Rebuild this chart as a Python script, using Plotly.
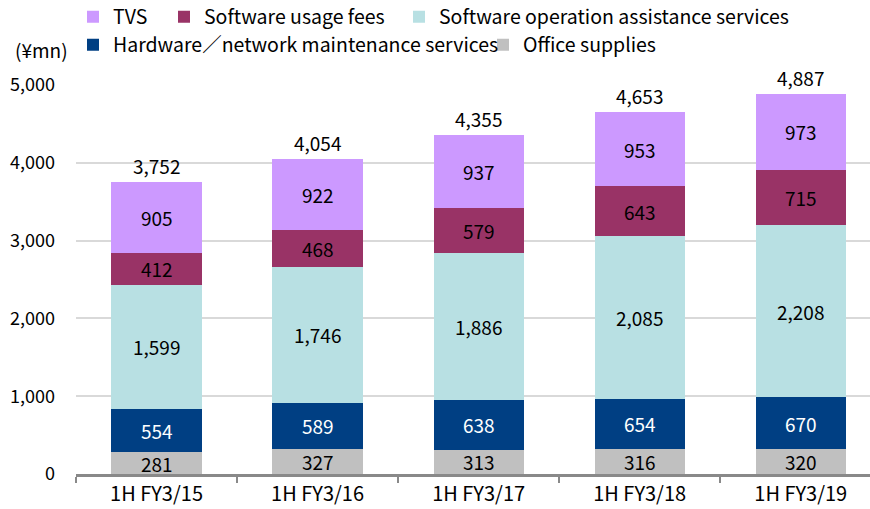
import plotly.graph_objects as go

categories = ["1H FY3/15", "1H FY3/16", "1H FY3/17", "1H FY3/18", "1H FY3/19"]
office_supplies = [281, 327, 313, 316, 320]
hardware = [554, 589, 638, 654, 670]
sw_operation = [1599, 1746, 1886, 2085, 2208]
sw_usage = [412, 468, 579, 643, 715]
tvs = [905, 922, 937, 953, 973]
totals = [3752, 4054, 4355, 4653, 4887]
y_ticks = [0, 1000, 2000, 3000, 4000, 5000]

FONT = "Noto Sans CJK JP"

series = [
    ("Office supplies", office_supplies, "#C0C0C0", "#000000", "legend5"),
    ("Hardware／network maintenance services", hardware, "#003F83", "#FFFFFF", "legend4"),
    ("Software operation assistance services", sw_operation, "#B8E0E3", "#000000", "legend3"),
    ("Software usage fees", sw_usage, "#993366", "#000000", "legend2"),
    ("TVS", tvs, "#CC99FF", "#000000", "legend"),
]

fig = go.Figure()
for name, vals, color, tcolor, leg in series:
    fig.add_trace(go.Bar(
        name=name, x=categories, y=vals, marker=dict(color=color, line=dict(width=0)),
        width=0.56, legend=leg, showlegend=True,
    ))

# segment labels at midpoints of stacked segments
cum = [0] * len(categories)
for name, vals, color, tcolor, leg in series:
    for i, c in enumerate(categories):
        fig.add_annotation(x=c, y=cum[i] + vals[i] / 2, text=f"{vals[i]:,}", showarrow=False,
                           font=dict(family=FONT, size=19, color=tcolor))
        cum[i] += vals[i]

for i, c in enumerate(categories):
    fig.add_annotation(x=c, y=totals[i], text=f"{totals[i]:,}", showarrow=False, yanchor="bottom",
                       yshift=1, font=dict(family=FONT, size=19, color="#000000"))

fig.add_annotation(xref="paper", yref="paper", x=-0.079, y=1.09, xanchor="left", yanchor="middle",
                   text="(¥mn)", showarrow=False, font=dict(family=FONT, size=19, color="#000000"))

leg_common = dict(orientation="h", xanchor="left", yanchor="middle", bgcolor="rgba(0,0,0,0)",
                  font=dict(family=FONT, size=19.5, color="#000000"), itemwidth=30,
                  xref="container", yref="container")
fig.update_layout(
    barmode="stack",
    width=870, height=509,
    showlegend=True,
    margin=dict(l=76, r=0, t=85, b=35),
    plot_bgcolor="white", paper_bgcolor="white",
    font=dict(family=FONT, size=18, color="#000000"),
    legend=dict(x=73 / 870, y=1 - 17 / 509, **leg_common),
    legend2=dict(x=164 / 870, y=1 - 17 / 509, **leg_common),
    legend3=dict(x=399 / 870, y=1 - 17 / 509, **leg_common),
    legend4=dict(x=73 / 870, y=1 - 45 / 509, **leg_common),
    legend5=dict(x=483 / 870, y=1 - 45 / 509, **leg_common),
    xaxis=dict(range=[-0.5, 4.43], showline=True, linecolor="#898989", linewidth=2.5,
               ticks="outside", tickson="boundaries", ticklen=6, tickcolor="#898989", tickwidth=2,
               tickfont=dict(family=FONT, size=20), showgrid=False),
    yaxis=dict(range=[0, 5000], tickvals=y_ticks, tickformat=",", showgrid=True,
               gridcolor="#D9D9D9", gridwidth=1.5, zeroline=False, showline=False,
               ticklabelstandoff=20, tickfont=dict(family=FONT, size=18)),
)

fig.write_html("out.html", post_script="document.body.style.margin='0';",
               config={"displayModeBar": False})
